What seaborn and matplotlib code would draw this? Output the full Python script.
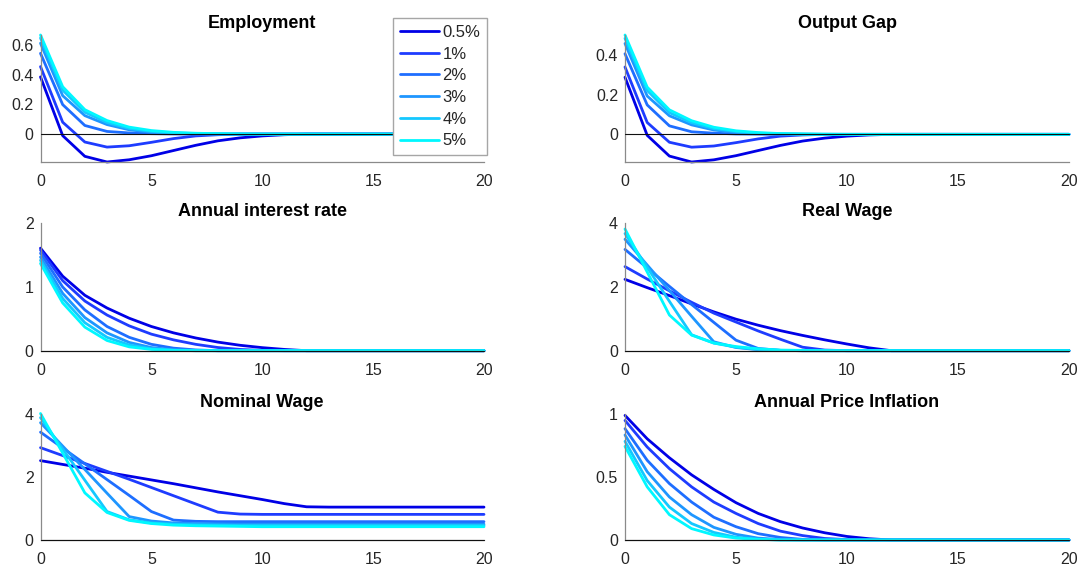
import numpy as np
import pandas as pd
import matplotlib
matplotlib.use("Agg")
import matplotlib.pyplot as plt
import seaborn as sns

# Impulse responses over 20 quarters for six trend-inflation settings
quarters = list(range(21))
rates = ["0.5%", "1%", "2%", "3%", "4%", "5%"]
colors = ["#0000E6", "#1E3CFF", "#1E6EFF", "#1E96FF", "#14C8FF", "#00F8FF"]

employment_05 = [0.384, -0.01, -0.149, -0.187, -0.172, -0.145, -0.11, -0.075, -0.045, -0.025, -0.012, -0.004, 0, 0, 0, 0, 0, 0, 0, 0, 0]
employment_1 = [0.453, 0.08, -0.053, -0.087, -0.078, -0.055, -0.03, -0.012, -0.004, 0, 0, 0, 0, 0, 0, 0, 0, 0, 0, 0, 0]
employment_2 = [0.542, 0.198, 0.058, 0.018, 0.008, 0.003, 0.001, 0, 0, 0, 0, 0, 0, 0, 0, 0, 0, 0, 0, 0, 0]
employment_3 = [0.61, 0.258, 0.124, 0.064, 0.029, 0.012, 0.005, 0.002, 0.001, 0, 0, 0, 0, 0, 0, 0, 0, 0, 0, 0, 0]
employment_4 = [0.645, 0.295, 0.147, 0.078, 0.038, 0.018, 0.008, 0.004, 0.002, 0.001, 0, 0, 0, 0, 0, 0, 0, 0, 0, 0, 0]
employment_5 = [0.665, 0.318, 0.164, 0.091, 0.047, 0.024, 0.012, 0.006, 0.003, 0.001, 0, 0, 0, 0, 0, 0, 0, 0, 0, 0, 0]

gap_05 = [0.289, -0.005, -0.11, -0.14, -0.129, -0.108, -0.082, -0.056, -0.034, -0.019, -0.009, -0.003, 0, 0, 0, 0, 0, 0, 0, 0, 0]
gap_1 = [0.341, 0.06, -0.04, -0.065, -0.059, -0.042, -0.023, -0.009, -0.003, 0, 0, 0, 0, 0, 0, 0, 0, 0, 0, 0, 0]
gap_2 = [0.408, 0.149, 0.043, 0.013, 0.006, 0.002, 0.001, 0, 0, 0, 0, 0, 0, 0, 0, 0, 0, 0, 0, 0, 0]
gap_3 = [0.46, 0.194, 0.094, 0.048, 0.022, 0.009, 0.004, 0.002, 0.001, 0, 0, 0, 0, 0, 0, 0, 0, 0, 0, 0, 0]
gap_4 = [0.486, 0.222, 0.11, 0.059, 0.029, 0.014, 0.006, 0.003, 0.001, 0, 0, 0, 0, 0, 0, 0, 0, 0, 0, 0, 0]
gap_5 = [0.503, 0.239, 0.124, 0.069, 0.036, 0.018, 0.009, 0.004, 0.002, 0.001, 0, 0, 0, 0, 0, 0, 0, 0, 0, 0, 0]

interest_05 = [1.61, 1.17, 0.87, 0.67, 0.51, 0.38, 0.28, 0.20, 0.135, 0.085, 0.048, 0.02, 0, 0, 0, 0, 0, 0, 0, 0, 0]
interest_1 = [1.58, 1.10, 0.78, 0.56, 0.39, 0.26, 0.17, 0.10, 0.05, 0.02, 0.005, 0, 0, 0, 0, 0, 0, 0, 0, 0, 0]
interest_2 = [1.53, 1.00, 0.64, 0.38, 0.21, 0.10, 0.04, 0.012, 0, 0, 0, 0, 0, 0, 0, 0, 0, 0, 0, 0, 0]
interest_3 = [1.47, 0.90, 0.52, 0.28, 0.13, 0.05, 0.015, 0.004, 0, 0, 0, 0, 0, 0, 0, 0, 0, 0, 0, 0, 0]
interest_4 = [1.42, 0.82, 0.44, 0.21, 0.09, 0.03, 0.008, 0, 0, 0, 0, 0, 0, 0, 0, 0, 0, 0, 0, 0, 0]
interest_5 = [1.37, 0.75, 0.37, 0.16, 0.06, 0.02, 0.005, 0, 0, 0, 0, 0, 0, 0, 0, 0, 0, 0, 0, 0, 0]

real_wage_05 = [2.24, 1.98, 1.73, 1.47, 1.22, 0.99, 0.80, 0.63, 0.48, 0.34, 0.21, 0.09, 0, 0, 0, 0, 0, 0, 0, 0, 0]
real_wage_1 = [2.64, 2.25, 1.88, 1.52, 1.18, 0.90, 0.62, 0.36, 0.11, 0.02, 0, 0, 0, 0, 0, 0, 0, 0, 0, 0, 0]
real_wage_2 = [3.18, 2.60, 2.02, 1.45, 0.89, 0.33, 0.07, 0.01, 0, 0, 0, 0, 0, 0, 0, 0, 0, 0, 0, 0, 0]
real_wage_3 = [3.50, 2.69, 1.89, 1.08, 0.28, 0.10, 0.03, 0.01, 0, 0, 0, 0, 0, 0, 0, 0, 0, 0, 0, 0, 0]
real_wage_4 = [3.68, 2.62, 1.55, 0.50, 0.24, 0.11, 0.04, 0.01, 0, 0, 0, 0, 0, 0, 0, 0, 0, 0, 0, 0, 0]
real_wage_5 = [3.82, 2.47, 1.12, 0.49, 0.24, 0.13, 0.06, 0.02, 0.01, 0, 0, 0, 0, 0, 0, 0, 0, 0, 0, 0, 0]

nominal_wage_05 = [2.51, 2.39, 2.27, 2.14, 2.02, 1.90, 1.78, 1.65, 1.52, 1.40, 1.28, 1.15, 1.05, 1.04, 1.04, 1.04, 1.04, 1.04, 1.04, 1.04, 1.04]
nominal_wage_1 = [2.92, 2.67, 2.42, 2.17, 1.92, 1.66, 1.40, 1.14, 0.88, 0.82, 0.81, 0.81, 0.81, 0.81, 0.81, 0.81, 0.81, 0.81, 0.81, 0.81, 0.81]
nominal_wage_2 = [3.41, 2.91, 2.41, 1.91, 1.41, 0.90, 0.63, 0.59, 0.58, 0.58, 0.58, 0.58, 0.58, 0.58, 0.58, 0.58, 0.58, 0.58, 0.58, 0.58, 0.58]
nominal_wage_3 = [3.71, 2.97, 2.23, 1.48, 0.74, 0.60, 0.54, 0.52, 0.51, 0.50, 0.50, 0.50, 0.50, 0.50, 0.50, 0.50, 0.50, 0.50, 0.50, 0.50, 0.50]
nominal_wage_4 = [3.87, 2.88, 1.89, 0.90, 0.64, 0.54, 0.50, 0.48, 0.47, 0.46, 0.46, 0.46, 0.46, 0.46, 0.46, 0.46, 0.46, 0.46, 0.46, 0.46, 0.46]
nominal_wage_5 = [4.00, 2.75, 1.49, 0.87, 0.62, 0.52, 0.47, 0.45, 0.44, 0.43, 0.42, 0.42, 0.42, 0.42, 0.42, 0.42, 0.42, 0.42, 0.42, 0.42, 0.42]

inflation_05 = [0.985, 0.80, 0.65, 0.515, 0.40, 0.295, 0.21, 0.145, 0.095, 0.057, 0.028, 0.01, 0, 0, 0, 0, 0, 0, 0, 0, 0]
inflation_1 = [0.945, 0.735, 0.564, 0.42, 0.30, 0.21, 0.13, 0.07, 0.035, 0.012, 0.003, 0, 0, 0, 0, 0, 0, 0, 0, 0, 0]
inflation_2 = [0.88, 0.63, 0.446, 0.30, 0.18, 0.105, 0.05, 0.02, 0.005, 0, 0, 0, 0, 0, 0, 0, 0, 0, 0, 0, 0]
inflation_3 = [0.83, 0.54, 0.34, 0.20, 0.10, 0.045, 0.015, 0.004, 0, 0, 0, 0, 0, 0, 0, 0, 0, 0, 0, 0, 0]
inflation_4 = [0.78, 0.47, 0.26, 0.13, 0.06, 0.022, 0.006, 0, 0, 0, 0, 0, 0, 0, 0, 0, 0, 0, 0, 0, 0]
inflation_5 = [0.74, 0.42, 0.20, 0.09, 0.04, 0.015, 0.005, 0, 0, 0, 0, 0, 0, 0, 0, 0, 0, 0, 0, 0, 0]

x_ticks = [0, 5, 10, 15, 20]

panels = [
    ("Employment", [employment_05, employment_1, employment_2, employment_3, employment_4, employment_5],
     (-0.187, 0.665), [0, 0.2, 0.4, 0.6]),
    ("Output Gap", [gap_05, gap_1, gap_2, gap_3, gap_4, gap_5],
     (-0.14, 0.503), [0, 0.2, 0.4]),
    ("Annual interest rate", [interest_05, interest_1, interest_2, interest_3, interest_4, interest_5],
     (0, 2), [0, 1, 2]),
    ("Real Wage", [real_wage_05, real_wage_1, real_wage_2, real_wage_3, real_wage_4, real_wage_5],
     (0, 4), [0, 2, 4]),
    ("Nominal Wage", [nominal_wage_05, nominal_wage_1, nominal_wage_2, nominal_wage_3, nominal_wage_4, nominal_wage_5],
     (0, 4), [0, 2, 4]),
    ("Annual Price Inflation", [inflation_05, inflation_1, inflation_2, inflation_3, inflation_4, inflation_5],
     (0, 1), [0, 0.5, 1]),
]

sns.set_theme(style="white")
plt.rcParams["font.family"] = ["Liberation Sans", "DejaVu Sans"]

W, H = 1081, 568
fig = plt.figure(figsize=(W / 100, H / 100), dpi=100)

# axes boxes in pixels: (left, top, right, bottom)
col_x = [(40.5, 484.0), (625.0, 1069.0)]
row_y = [(35.0, 162.0), (223.3, 350.7), (413.5, 540.0)]

axis_grey = "#8a8a8a"
axes = []
for i, (title, series, ylim, yticks) in enumerate(panels):
    r, c = divmod(i, 2)
    x0, x1 = col_x[c]
    y0, y1 = row_y[r]
    ax = fig.add_axes([x0 / W, 1 - y1 / H, (x1 - x0) / W, (y1 - y0) / H])
    axes.append(ax)

    df = pd.DataFrame({
        "quarter": np.tile(quarters, len(rates)),
        "response": np.concatenate([np.asarray(s, dtype=float) for s in series]),
        "rate": np.repeat(rates, len(quarters)),
    })
    sns.lineplot(data=df, x="quarter", y="response", hue="rate", hue_order=rates,
                 palette=colors, estimator=None, linewidth=2.0, legend=False,
                 ax=ax, clip_on=False, zorder=2)
    ax.axhline(0, color="#101010", linewidth=0.8, zorder=3, clip_on=False)

    ax.set_xlim(0, 20)
    ax.set_ylim(*ylim)
    ax.set_xticks(x_ticks)
    ax.set_yticks(yticks)
    ax.set_yticklabels([f"{v:g}" for v in yticks])
    ax.set_xlabel("")
    ax.set_ylabel("")
    ax.set_title(title, fontsize=13, fontweight="bold", color="black", pad=5)

    for side in ("top", "right"):
        ax.spines[side].set_visible(False)
    for side in ("left", "bottom"):
        ax.spines[side].set_color(axis_grey)
        ax.spines[side].set_linewidth(0.9)
    ax.tick_params(direction="in", length=3.5, width=0.8, color=axis_grey,
                   labelsize=11.5, labelcolor="#262626")
    ax.tick_params(axis="x", pad=8.5)
    ax.tick_params(axis="y", pad=5.0)
    ax.set_facecolor("white")

handles = axes[0].get_lines()[:len(rates)]
fig.legend(handles, rates, loc="upper left",
           bbox_to_anchor=(393 / W, 1 - 18 / H), bbox_transform=fig.transFigure,
           borderaxespad=0, frameon=True, fancybox=False, framealpha=1,
           edgecolor="#a6a6a6", fontsize=12, handlelength=2.35,
           handletextpad=0.2, labelspacing=0.4, borderpad=0.42)

fig.savefig("out.png", dpi=100, facecolor="white")
